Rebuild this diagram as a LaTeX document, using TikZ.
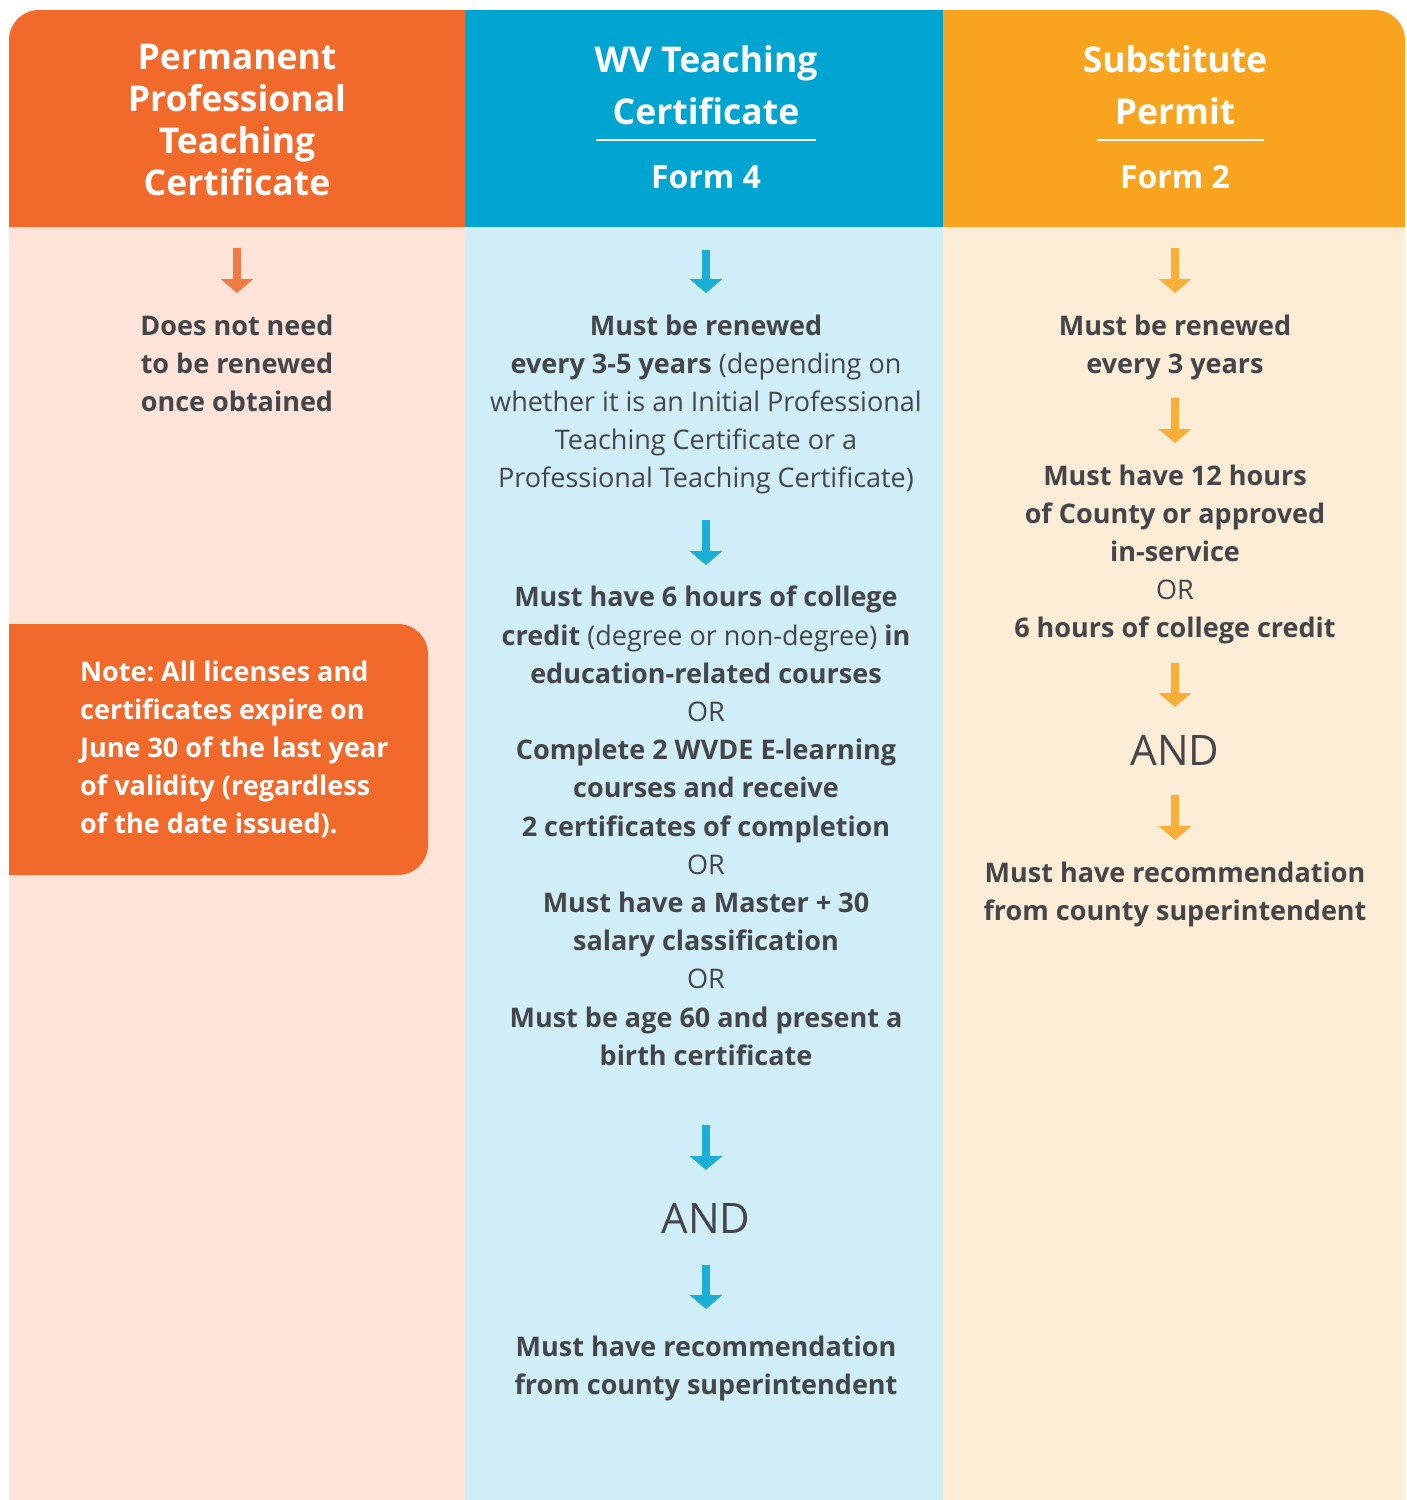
\documentclass[tikz,border=0pt]{standalone}
\usepackage{fontspec}
\setmainfont{Open Sans}
\usetikzlibrary{arrows.meta,positioning}

\definecolor{orgHead}{HTML}{F16A2C}
\definecolor{orgBack}{HTML}{FDE3D8}
\definecolor{orgArrow}{HTML}{F07B45}
\definecolor{bluHead}{HTML}{00A4D0}
\definecolor{bluBack}{HTML}{D0EEF7}
\definecolor{bluArrow}{HTML}{1BAED6}
\definecolor{ylwHead}{HTML}{F9A41F}
\definecolor{ylwBack}{HTML}{FDEDD6}
\definecolor{ylwArrow}{HTML}{F9AE38}
\definecolor{txtGray}{HTML}{45464A}

\frenchspacing

\begin{document}
\begin{tikzpicture}
  [x=1pt,y=-1pt,every node/.style={inner sep=0pt},
   headtxt/.style={text=white,font=\fontsize{35.5}{42}\selectfont\bfseries,align=center,anchor=north,
     execute at begin node=\strut,execute at end node=\strut},
   formtxt/.style={text=white,font=\fontsize{32}{38}\selectfont\bfseries,anchor=base},
   body/.style={text=txtGray,font=\fontsize{27}{38.2}\selectfont,align=center,anchor=north,
     execute at begin node=\strut,execute at end node=\strut},
   andtxt/.style={text=txtGray,font=\fontsize{42}{50}\selectfont,anchor=north,
     execute at begin node=\strut},
   arr/.style={line width=8pt,-{Triangle[width=32pt,length=14pt]}},
   arrL/.style={arr,orgArrow},
   arrM/.style={arr,bluArrow},
   arrR/.style={arr,ylwArrow}]
  \useasboundingbox (0,0) rectangle (1407,1500);

  % column backgrounds
  \fill[orgBack] (9,227) rectangle (465,1500);
  \fill[bluBack] (465,227) rectangle (943,1500);
  \fill[ylwBack] (943,227) rectangle (1405,1500);

  % headers
  \fill[orgHead] (9,227) -- (9,40) arc(180:270:30) -- (465,10) -- (465,227) -- cycle;
  \fill[bluHead] (465,10) rectangle (943,227);
  \fill[ylwHead] (943,227) -- (943,10) -- (1375,10) arc(-90:0:30) -- (1405,227) -- cycle;
  \draw[white,line width=2.5pt] (596,140) -- (816,140);
  \draw[white,line width=2.5pt] (1097,140) -- (1264,140);

  \node[headtxt] (hdL) at (237,43.6) {Permanent\\Professional\\Teaching\\Certificate};
  \node[headtxt,font=\fontsize{35.5}{52}\selectfont\bfseries] (hdM) at (706,45) {WV Teaching\\Certificate};
  \node[formtxt] (fmM) at (706,188) {Form 4};
  \node[headtxt,font=\fontsize{35.5}{52}\selectfont\bfseries] (hdR) at (1175,45) {Substitute\\Permit};
  \node[formtxt] (fmR) at (1175,188) {Form 2};

  \coordinate (hL) at (237,227);
  \coordinate (hM) at (706,227);
  \coordinate (hR) at (1175,227);

  % left column
  \node[body] (l1) at (237,314.4) {\textbf{Does not need}\\\textbf{to be renewed}\\\textbf{once obtained}};

  \fill[orgHead] (9,624) -- (398,624) arc(-90:0:30) -- (428,845) arc(0:90:30) -- (9,875) -- cycle;
  \node[body,text=white,align=left,anchor=north west] (note) at (80,660.4)
    {\textbf{Note: All licenses and}\\\textbf{certificates expire on}\\\textbf{June 30 of the last year}\\\textbf{of validity (regardless}\\\textbf{of the date issued).}};

  % middle column
  \node[body] (m1) at (706,314.4) {\textbf{Must be renewed}\\
    \textbf{every 3-5 years} (depending on\\
    whether it is an Initial Professional\\
    Teaching Certificate or a\\
    Professional Teaching Certificate)};
  \node[body] (m2) at (706,586) {\textbf{Must have 6 hours of college}\\
    \textbf{credit} (degree or non-degree) \textbf{in}\\
    \textbf{education-related courses}\\
    OR\\
    \textbf{Complete 2 WVDE E-learning}\\
    \textbf{courses and receive}\\
    \textbf{2 certificates of completion}\\
    OR\\
    \textbf{Must have a Master + 30}\\
    \textbf{salary classification}\\
    OR\\
    \textbf{Must be age 60 and present a}\\
    \textbf{birth certificate}};
  \node[andtxt] (mAnd) at (706,1198) {AND};
  \node[body] (m3) at (706,1335.4) {\textbf{Must have recommendation}\\\textbf{from county superintendent}};

  % right column
  \node[body] (r1) at (1175,314.4) {\textbf{Must be renewed}\\\textbf{every 3 years}};
  \node[body] (r2) at (1175,464.4) {\textbf{Must have 12 hours}\\
    \textbf{of County or approved}\\
    \textbf{in-service}\\
    OR\\
    \textbf{6 hours of college credit}};
  \node[andtxt] (rAnd) at (1175,730) {AND};
  \node[body] (r3) at (1175,861.4) {\textbf{Must have recommendation}\\\textbf{from county superintendent}};

  % arrows
  \draw[arrL,shorten <=21pt,shorten >=21.4pt] (hL) -- (l1);

  \draw[arrM,shorten <=23pt,shorten >=21.4pt] (hM) -- (m1);
  \draw[arrM,shorten <=20.6pt,shorten >=21pt] (m1) -- (m2);
  \draw[arrM,shorten <=48pt,shorten >=28pt] (m2) -- (mAnd);
  \draw[arrM,shorten <=17pt,shorten >=26.4pt] (mAnd) -- (m3);

  \draw[arrR,shorten <=21pt,shorten >=21.4pt] (hR) -- (r1);
  \draw[arrR,shorten <=12.6pt,shorten >=21.4pt] (r1) -- (r2);
  \draw[arrR,shorten <=13.6pt,shorten >=23pt] (r2) -- (rAnd);
  \draw[arrR,shorten <=15pt,shorten >=21.4pt] (rAnd) -- (r3);

\end{tikzpicture}
\end{document}
